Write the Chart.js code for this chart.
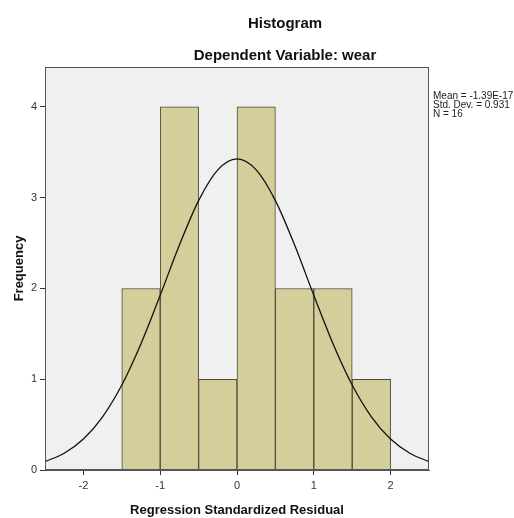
<!DOCTYPE html>
<html>
<head>
<meta charset="utf-8">
<script src="https://cdn.jsdelivr.net/npm/chart.js@4"></script>
<style>
  body { margin: 0; background: #fff; }
  #wrap { position: relative; width: 514px; height: 518px; }
  .t { position: absolute; font-family: "Liberation Sans", Arial, sans-serif; font-weight: bold; color: #111; white-space: nowrap; }
  #stats { position: absolute; left: 433px; top: 91px; font-family: "Liberation Sans", Arial, sans-serif; font-size: 10px; line-height: 9px; color: #222; }
</style>
</head>
<body>
<div id="wrap">
  <canvas id="histChart" width="514" height="518"></canvas>
  <div class="t" style="left:0;width:570px;text-align:center;top:14px;font-size:15px;">Histogram</div>
  <div class="t" style="left:0;width:570px;text-align:center;top:46px;font-size:15px;">Dependent Variable: wear</div>
  <div id="stats">Mean = -1.39E-17<br>Std. Dev. = 0.931<br>N = 16</div>
</div>
<script>
// histogram bins (bin edges) and counts
var binEdges = [-1.5, -1, -0.5, 0, 0.5, 1, 1.5, 2];
var counts = [2, 4, 1, 4, 2, 2, 1];

// normal curve
var curveX = [-2.5, -2.25, -2, -1.75, -1.5, -1.25, -1, -0.75, -0.5, -0.25, 0, 0.25, 0.5, 0.75, 1, 1.25, 1.5, 1.75, 2, 2.25, 2.5];
var curveY = [0.093, 0.185, 0.341, 0.586, 0.936, 1.392, 1.925, 2.478, 2.968, 3.307, 3.428, 3.307, 2.968, 2.478, 1.925, 1.392, 0.936, 0.586, 0.341, 0.185, 0.093];

var xTicks = [-2, -1, 0, 1, 2];
var yTicks = [0, 1, 2, 3, 4];

var barData = counts.map(function (c, i) {
  return { x: (binEdges[i] + binEdges[i + 1]) / 2, y: c };
});
var lineData = curveX.map(function (x, i) {
  return { x: x, y: curveY[i] };
});

// plot background + frame
var frame = {
  id: 'frame',
  beforeDraw: function (chart) {
    var a = chart.chartArea, c = chart.ctx;
    c.save();
    c.fillStyle = '#f0f0f0';
    c.fillRect(a.left, a.top, a.right - a.left, a.bottom - a.top);
    c.restore();
  },
  afterDraw: function (chart) {
    var a = chart.chartArea, c = chart.ctx;
    c.save();
    c.strokeStyle = '#555';
    c.lineWidth = 1;
    c.strokeRect(a.left + 0.5, a.top + 0.5, a.right - a.left - 1, a.bottom - a.top - 1);
    c.restore();
  }
};

var ctx = document.getElementById("histChart");
var myChart = new Chart(ctx, {
  type: 'bar',
  data: {
    datasets: [
      {
        type: 'line',
        data: lineData,
        borderColor: '#111',
        borderWidth: 1.3,
        pointRadius: 0,
        fill: false,
        cubicInterpolationMode: 'monotone',
        order: 0
      },
      {
        data: barData,
        backgroundColor: '#d4cf9a',
        borderColor: '#4a4838',
        borderWidth: 1,
        barPercentage: 1,
        categoryPercentage: 1,
        order: 1
      }
    ]
  },
  options: {
    responsive: false,
    animation: false,
    layout: { padding: { left: 0, right: 85, top: 67, bottom: 0 } },
    plugins: {
      legend: { display: false },
      tooltip: { enabled: false }
    },
    scales: {
      x: {
        type: 'linear',
        min: -2.5,
        max: 2.5,
        offset: false,
        afterBuildTicks: function (s) { s.ticks = xTicks.map(function (v) { return { value: v }; }); },
        afterFit: function (s) { s.height = 48; },
        grid: { offset: false, drawOnChartArea: false, drawTicks: true, tickLength: 5, color: '#333' },
        border: { color: '#555' },
        ticks: { color: '#333', font: { family: 'Liberation Sans', size: 11 }, padding: 4, maxRotation: 0 },
        title: { display: true, text: 'Regression Standardized Residual', color: '#111', font: { family: 'Liberation Sans', size: 13, weight: 'bold' }, padding: { top: 0, bottom: 0 } }
      },
      y: {
        min: 0,
        max: 4.44,
        afterBuildTicks: function (s) { s.ticks = yTicks.map(function (v) { return { value: v }; }); },
        afterFit: function (s) { s.width = 45; },
        grid: { drawOnChartArea: false, drawTicks: true, tickLength: 5, color: '#333' },
        border: { color: '#555' },
        ticks: { color: '#333', font: { family: 'Liberation Sans', size: 11 }, padding: 3 },
        title: { display: true, text: 'Frequency', color: '#111', font: { family: 'Liberation Sans', size: 13, weight: 'bold' }, padding: { top: 12, bottom: 0 } }
      }
    }
  },
  plugins: [frame]
});
</script>
</body>
</html>
